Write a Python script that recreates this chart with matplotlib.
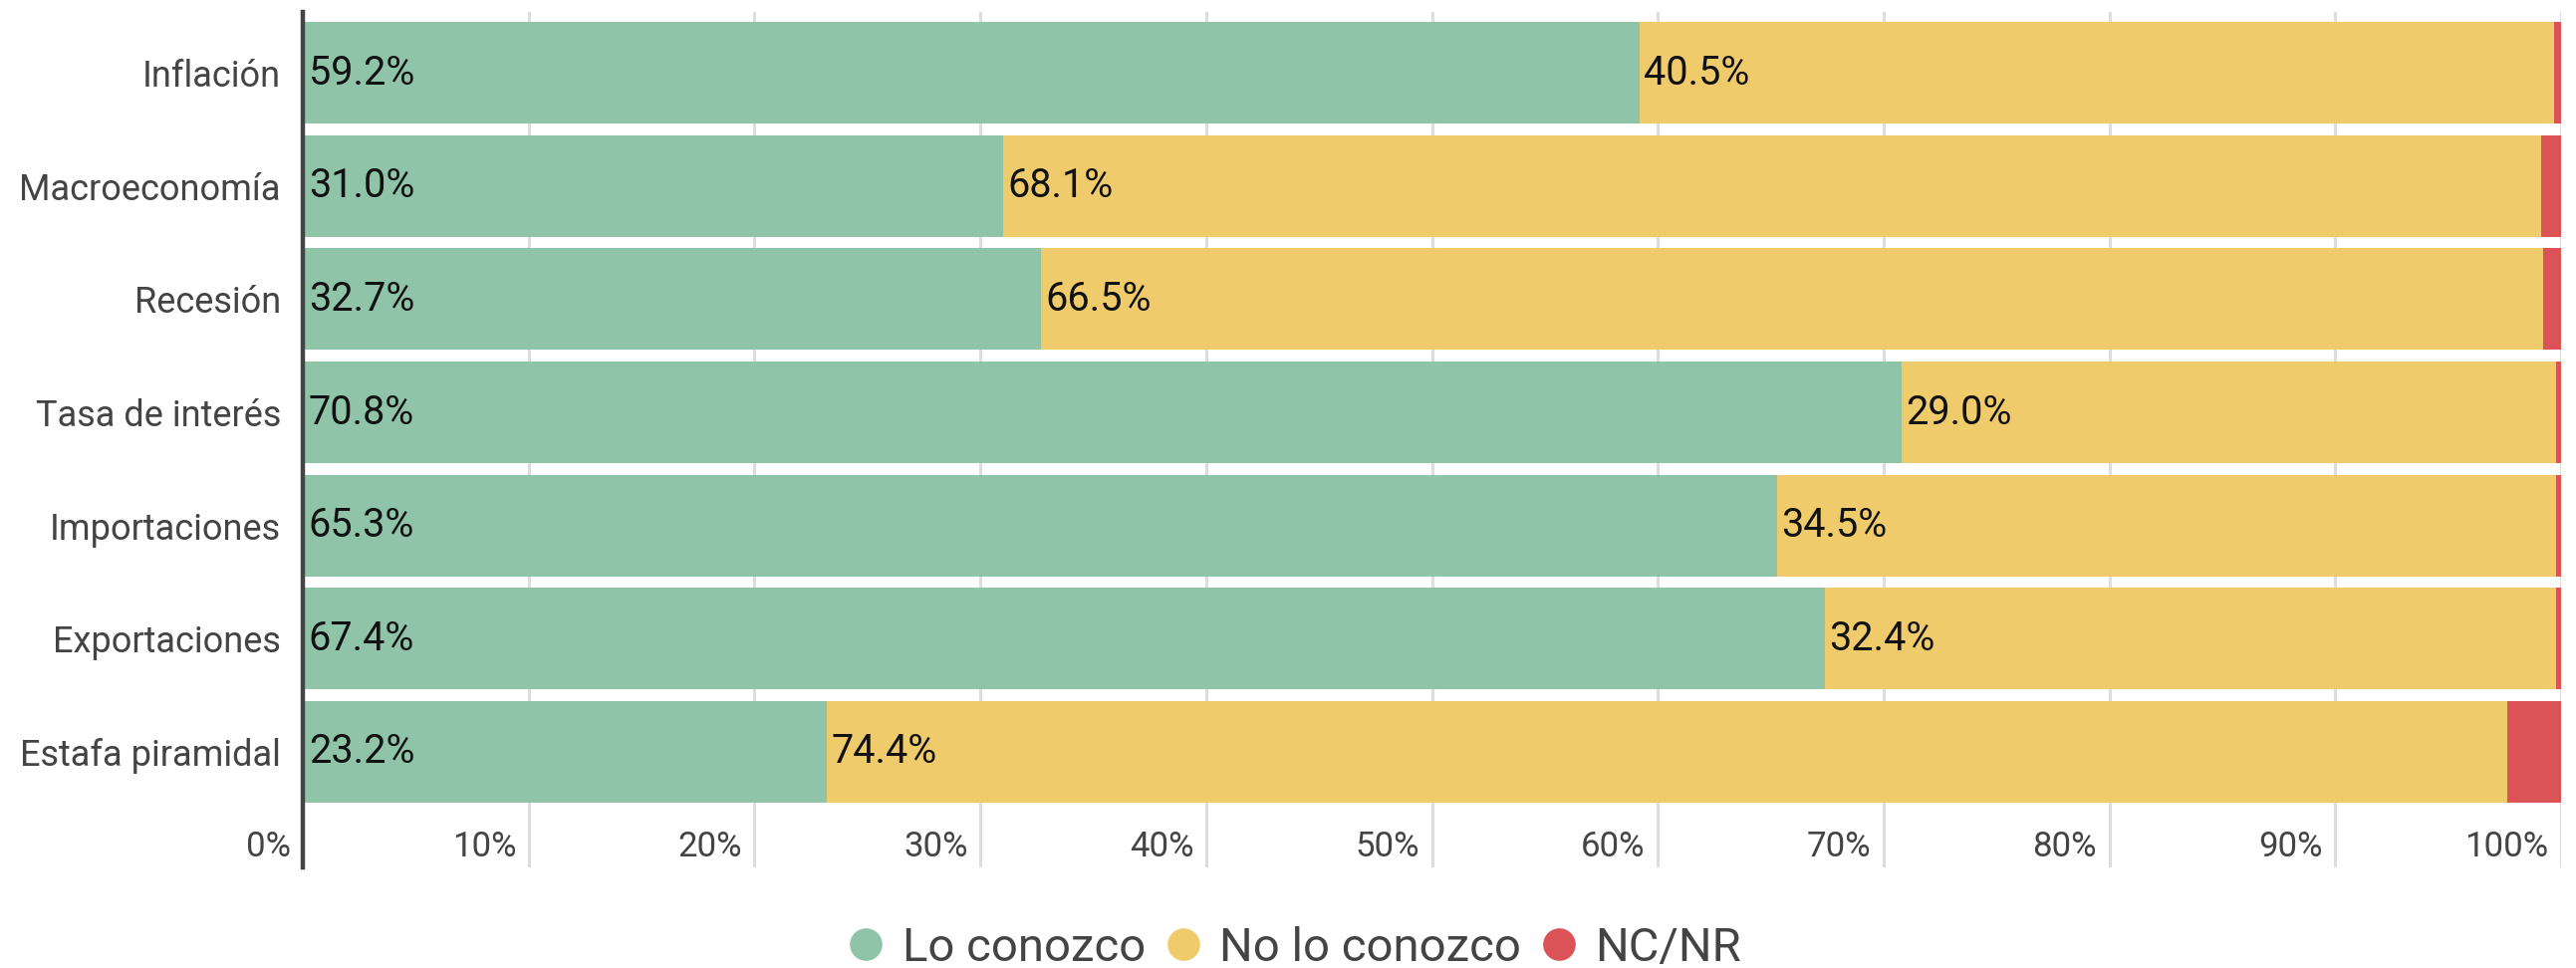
import matplotlib
matplotlib.use("Agg")
import matplotlib.pyplot as plt
from matplotlib.lines import Line2D

plt.rcParams['font.family'] = ['Roboto', 'DejaVu Sans']

categories = ["Inflación", "Macroeconomía", "Recesión", "Tasa de interés",
              "Importaciones", "Exportaciones", "Estafa piramidal"]
lo_conozco = [59.2, 31.0, 32.7, 70.8, 65.3, 67.4, 23.2]
no_lo_conozco = [40.5, 68.1, 66.5, 29.0, 34.5, 32.4, 74.4]
nc_nr = [0.3, 0.9, 0.8, 0.2, 0.2, 0.2, 2.4]
series_names = ["Lo conozco", "No lo conozco", "NC/NR"]
x_ticks = [0, 10, 20, 30, 40, 50, 60, 70, 80, 90, 100]
x_tick_labels = [f"{t}%" for t in x_ticks]

colors = ["#8FC4A8", "#EFCB6B", "#DC5357"]
text_gray = "#444444"

fig = plt.figure(figsize=(25.86, 9.72), dpi=100)
ax = fig.add_axes([0.1176, 0.104, 0.9942 - 0.1176, 0.988 - 0.104])

y = list(range(len(categories)))
bar_h = 0.9

left = [0.0] * len(categories)
for vals, col in zip([lo_conozco, no_lo_conozco, nc_nr], colors):
    ax.barh(y, vals, left=left, height=bar_h, color=col, zorder=2, linewidth=0)
    left = [l + v for l, v in zip(left, vals)]

# value labels at the start of the first two segments
for i in y:
    ax.annotate(f"{lo_conozco[i]:.1f}%", (0, i), xytext=(4, 0), textcoords="offset points",
                ha="left", va="center", fontsize=28.5, color="#111111", zorder=3)
    ax.annotate(f"{no_lo_conozco[i]:.1f}%", (lo_conozco[i], i), xytext=(3, 0),
                textcoords="offset points", ha="left", va="center", fontsize=28.5,
                color="#111111", zorder=3)

ax.set_xlim(0, 100)
ax.set_ylim(7.02, -0.54)

# vertical gridlines
for t in x_ticks[1:]:
    ax.axvline(t, color="#DDDDDD", linewidth=2.2, zorder=1)

# x tick labels sit inside the plot, to the left of each gridline
ax.set_xticks([])
tick_y = 6.84
for t, lab in zip(x_ticks, x_tick_labels):
    ax.annotate(lab, (t, tick_y), xytext=(-9, 0), textcoords="offset points",
                ha="right", va="center", fontsize=25, color=text_gray)

ax.set_yticks(y)
ax.set_yticklabels(categories, fontsize=26, color=text_gray)
ax.tick_params(axis="y", length=0, pad=16)

for s in ["top", "right", "bottom"]:
    ax.spines[s].set_visible(False)
ax.spines["left"].set_color(text_gray)
ax.spines["left"].set_linewidth(3.2)
ax.spines["left"].set_zorder(4)

handles = [Line2D([], [], marker="o", linestyle="none", markersize=23.5,
                  markerfacecolor=c, markeredgewidth=0) for c in colors]
fig.legend(handles, series_names, loc="center", bbox_to_anchor=(0.5015, 0.021),
           ncol=3, frameon=False, fontsize=34, handlelength=1.0,
           handletextpad=0.27, columnspacing=0.3, labelcolor=text_gray)

fig.savefig("out.png", dpi=100)
